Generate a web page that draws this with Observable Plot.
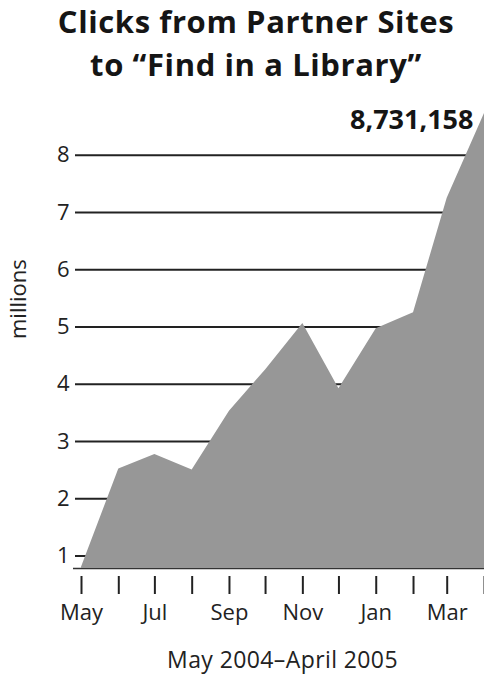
<!DOCTYPE html>
<html>
<head>
<meta charset="utf-8">
<script src="https://cdn.jsdelivr.net/npm/d3@7"></script>
<script src="https://cdn.jsdelivr.net/npm/@observablehq/plot@0.6"></script>
<style>
  html, body { margin: 0; padding: 0; background: #fff; }
  body { width: 484px; height: 675px; overflow: hidden; font-family: "Open Sans", sans-serif; color: #151515; }
  #title { box-sizing: border-box; height: 95px; padding-left: 28px; padding-top: 0; text-align: center; font-weight: 700; font-size: 31px; line-height: 43px; letter-spacing: 0.6px; }
  #chart svg { display: block; }
  #caption { margin-left: 81px; width: 403px; text-align: center; font-size: 23px; line-height: 30px; margin-top: 19px; color: #222; letter-spacing: 0.4px; }
</style>
</head>
<body>
<div id="title">Clicks from Partner Sites<br>to “Find in a Library”</div>
<div id="chart"></div>
<div id="caption">May 2004–April 2005</div>
<script>
// Data (millions of clicks per month)
const months = ["2004-05", "2004-06", "2004-07", "2004-08", "2004-09", "2004-10",
                "2004-11", "2004-12", "2005-01", "2005-02", "2005-03", "2005-04"];
const clicks = [0.80, 2.52, 2.77, 2.50, 3.53, 4.25, 5.06, 3.92, 4.97, 5.25, 7.25, 8.731158];
const yTicks = [1, 2, 3, 4, 5, 6, 7, 8];
const labeledMonths = ["May", "Jul", "Sep", "Nov", "Jan", "Mar"];
const peakLabel = "8,731,158";
const yLabel = "millions";

const data = months.map((m, i) => ({date: new Date(m + "-01T00:00:00Z"), value: clicks[i]}));
const dates = data.map(d => d.date);
const fmt = d3.utcFormat("%b");

const chart = Plot.plot({
  width: 484,
  height: 530,
  marginLeft: 81,
  marginRight: 0,
  marginTop: 18,
  marginBottom: 57,
  style: {fontFamily: "Open Sans, sans-serif", color: "#222", background: "#fff", overflow: "visible"},
  x: {type: "utc", domain: [dates[0], dates[dates.length - 1]]},
  y: {domain: [0.78, 8.731158]},
  marks: [
    Plot.ruleY(yTicks, {stroke: "#222", strokeWidth: 2, insetLeft: -6}),
    Plot.ruleY([0.78], {stroke: "#333", strokeWidth: 1.5, insetLeft: -8}),
    Plot.areaY(data, {x: "date", y1: 0.78, y2: "value", fill: "#979797"}),
    Plot.axisY({ticks: yTicks, tickSize: 0, tickPadding: 12, fontSize: 22, label: null}),
    Plot.axisX({ticks: dates, tickSize: 18, dy: 8, strokeWidth: 2, stroke: "#222", tickPadding: 10, fontSize: 22, label: null,
      tickFormat: d => labeledMonths.includes(fmt(d)) ? fmt(d) : ""}),
    Plot.text([data[data.length - 1]], {x: "date", y: "value", text: () => peakLabel, textAnchor: "end", lineAnchor: "bottom",
      dx: -11, dy: 15, fontSize: 27, fontWeight: 700, fill: "#151515", style: {letterSpacing: "0.3px"}}),
    Plot.text([yLabel], {frameAnchor: "left", rotate: -90, dx: -63, dy: -2, fontSize: 22, fill: "#222"})
  ]
});
document.getElementById("chart").appendChild(chart);
</script>
</body>
</html>
